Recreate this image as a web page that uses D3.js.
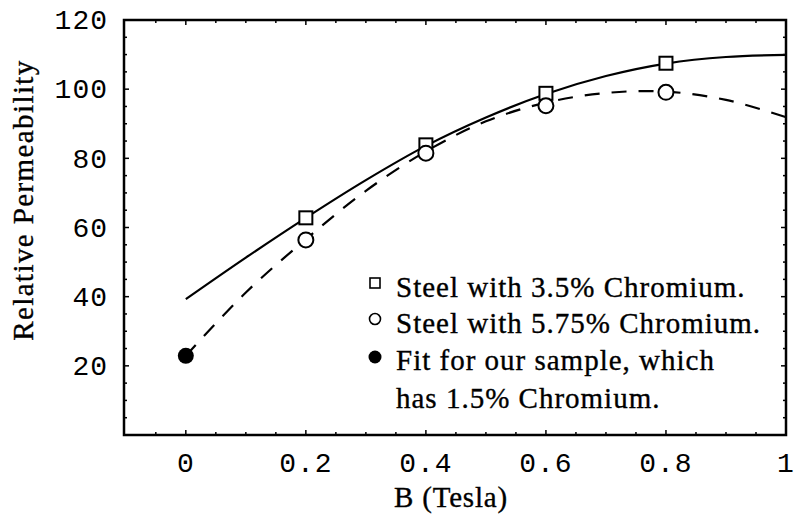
<!DOCTYPE html>
<html>
<head>
<meta charset="utf-8">
<script src="https://cdn.jsdelivr.net/npm/d3@7"></script>
<style>
  html, body { margin: 0; padding: 0; background: #fff; }
  svg { display: block; }
</style>
</head>
<body>
<svg id="chart" width="796" height="520"></svg>
<script>
// Measured relative permeability against field strength
const steel35X = [0.2, 0.4, 0.6, 0.8];
const steel35Y = [62.8, 83.9, 98.8, 107.5];
const steel575X = [0.2, 0.4, 0.6, 0.8];
const steel575Y = [56.4, 81.5, 95.2, 99.1];
const sampleX = [0];
const sampleY = [22.9];

// Fitted curves, sampled every 0.1 T
const curveX = [0, 0.1, 0.2, 0.3, 0.4, 0.5, 0.6, 0.7, 0.8, 0.9, 1.0];
const fit35Y = [39.3, 51.3, 62.8, 73.7, 83.6, 91.8, 98.6, 103.8, 107.4, 109.3, 109.9];
const fit575Y = [22.9, 41.2, 56.6, 70.6, 82.0, 90.7, 96.1, 98.9, 99.3, 96.9, 91.9];

const xTicks = [0, 0.2, 0.4, 0.6, 0.8, 1];
const xTickLabels = ["0", "0.2", "0.4", "0.6", "0.8", "1"];
const yTicks = [20, 40, 60, 80, 100, 120];
const yTickLabels = ["20", "40", "60", "80", "100", "120"];

const legendLabels = [
  "Steel with 3.5% Chromium.",
  "Steel with 5.75% Chromium.",
  "Fit for our sample, which",
  "has 1.5% Chromium."
];

(function draw() {
  const svg = d3.select("#chart");
  const pLeft = 124, pRight = 786, pTop = 20, pBottom = 435;

  const x = d3.scaleLinear().domain([-0.103, 1]).range([pLeft, pRight]);
  const y = d3.scaleLinear().domain([0, 120]).range([pBottom, pTop]);

  const serif = "'Liberation Serif', 'Times New Roman', serif";
  const mono = "'Liberation Mono', 'Courier New', monospace";

  // Minor/major ticks on all four sides of the frame (pointing inwards)
  const xMinor = d3.range(-0.1, 1.0001, 0.05).map(v => +v.toFixed(2));
  const yMinor = d3.range(5, 120.001, 5);

  const isMajorX = v => Math.abs(v * 5 - Math.round(v * 5)) < 1e-6;
  const isMajorY = v => v % 20 === 0;

  const ticks = svg.append("g").attr("stroke", "#000").attr("stroke-width", 1.5);
  xMinor.filter(v => x(v) > pLeft + 2 && x(v) < pRight - 2).forEach(v => {
    const len = isMajorX(v) ? 5 : 3;
    ticks.append("line").attr("x1", x(v)).attr("x2", x(v)).attr("y1", pBottom).attr("y2", pBottom - len);
    ticks.append("line").attr("x1", x(v)).attr("x2", x(v)).attr("y1", pTop).attr("y2", pTop + len);
  });
  yMinor.filter(v => y(v) > pTop + 2 && y(v) < pBottom - 2).forEach(v => {
    const len = isMajorY(v) ? 5 : 3;
    ticks.append("line").attr("y1", y(v)).attr("y2", y(v)).attr("x1", pLeft).attr("x2", pLeft + len);
    ticks.append("line").attr("y1", y(v)).attr("y2", y(v)).attr("x1", pRight).attr("x2", pRight - len);
  });

  // Frame
  svg.append("rect")
    .attr("x", pLeft).attr("y", pTop)
    .attr("width", pRight - pLeft).attr("height", pBottom - pTop)
    .attr("fill", "none").attr("stroke", "#000").attr("stroke-width", 2.5);

  // Tick labels
  svg.append("g").selectAll("text").data(xTicks).join("text")
    .attr("x", d => x(d)).attr("y", 472)
    .attr("text-anchor", "middle")
    .attr("font-family", mono).attr("font-size", 28).attr("letter-spacing", 1)
    .text((d, i) => xTickLabels[i]);

  svg.append("g").selectAll("text").data(yTicks).join("text")
    .attr("x", 108).attr("y", d => y(d)).attr("dy", "0.33em")
    .attr("text-anchor", "end")
    .attr("font-family", mono).attr("font-size", 28).attr("letter-spacing", 1)
    .text((d, i) => yTickLabels[i]);

  // Serif text gets a hairline stroke for a slightly heavier print look
  const serifText = sel => sel
    .attr("font-family", serif).attr("font-size", 29)
    .attr("fill", "#000").attr("stroke", "#000").attr("stroke-width", 0.35);

  // Axis titles
  svg.append("text")
    .attr("x", 451).attr("y", 507)
    .attr("text-anchor", "middle")
    .call(serifText).attr("letter-spacing", 0.8)
    .text("B (Tesla)");

  svg.append("text")
    .attr("transform", "translate(33,200) rotate(-90)")
    .attr("text-anchor", "middle")
    .call(serifText).attr("letter-spacing", 1.4)
    .text("Relative Permeability");

  // Fitted curves
  const line = d3.line()
    .x((d, i) => x(curveX[i]))
    .y(d => y(d))
    .curve(d3.curveCatmullRom.alpha(0.5));

  svg.append("path").datum(fit35Y)
    .attr("d", line)
    .attr("fill", "none").attr("stroke", "#000").attr("stroke-width", 2.2);

  svg.append("path").datum(fit575Y)
    .attr("d", line)
    .attr("fill", "none").attr("stroke", "#000").attr("stroke-width", 2.2)
    .attr("stroke-dasharray", "15,12");

  // Data markers
  const sq = 13;
  svg.append("g").selectAll("rect").data(steel35Y).join("rect")
    .attr("x", (d, i) => x(steel35X[i]) - sq / 2)
    .attr("y", d => y(d) - sq / 2)
    .attr("width", sq).attr("height", sq)
    .attr("fill", "#fff").attr("stroke", "#000").attr("stroke-width", 2);

  svg.append("g").selectAll("circle").data(steel575Y).join("circle")
    .attr("cx", (d, i) => x(steel575X[i]))
    .attr("cy", d => y(d))
    .attr("r", 7.5)
    .attr("fill", "#fff").attr("stroke", "#000").attr("stroke-width", 2);

  svg.append("g").selectAll("circle").data(sampleY).join("circle")
    .attr("cx", (d, i) => x(sampleX[i]))
    .attr("cy", d => y(d))
    .attr("r", 8)
    .attr("fill", "#000");

  // Legend
  const lg = svg.append("g");
  const lx = 375;
  lg.append("rect").attr("x", lx - 5).attr("y", 283 - 5).attr("width", 10).attr("height", 10)
    .attr("fill", "#fff").attr("stroke", "#000").attr("stroke-width", 1.6);
  lg.append("circle").attr("cx", lx).attr("cy", 319).attr("r", 5.5)
    .attr("fill", "#fff").attr("stroke", "#000").attr("stroke-width", 1.6);
  lg.append("circle").attr("cx", lx).attr("cy", 357).attr("r", 6.5).attr("fill", "#000");

  const baselines = [297, 333, 370, 408];
  lg.selectAll("text").data(legendLabels).join("text")
    .attr("x", 396).attr("y", (d, i) => baselines[i])
    .call(serifText).attr("letter-spacing", 1.0)
    .text(d => d);
})();
</script>
</body>
</html>
